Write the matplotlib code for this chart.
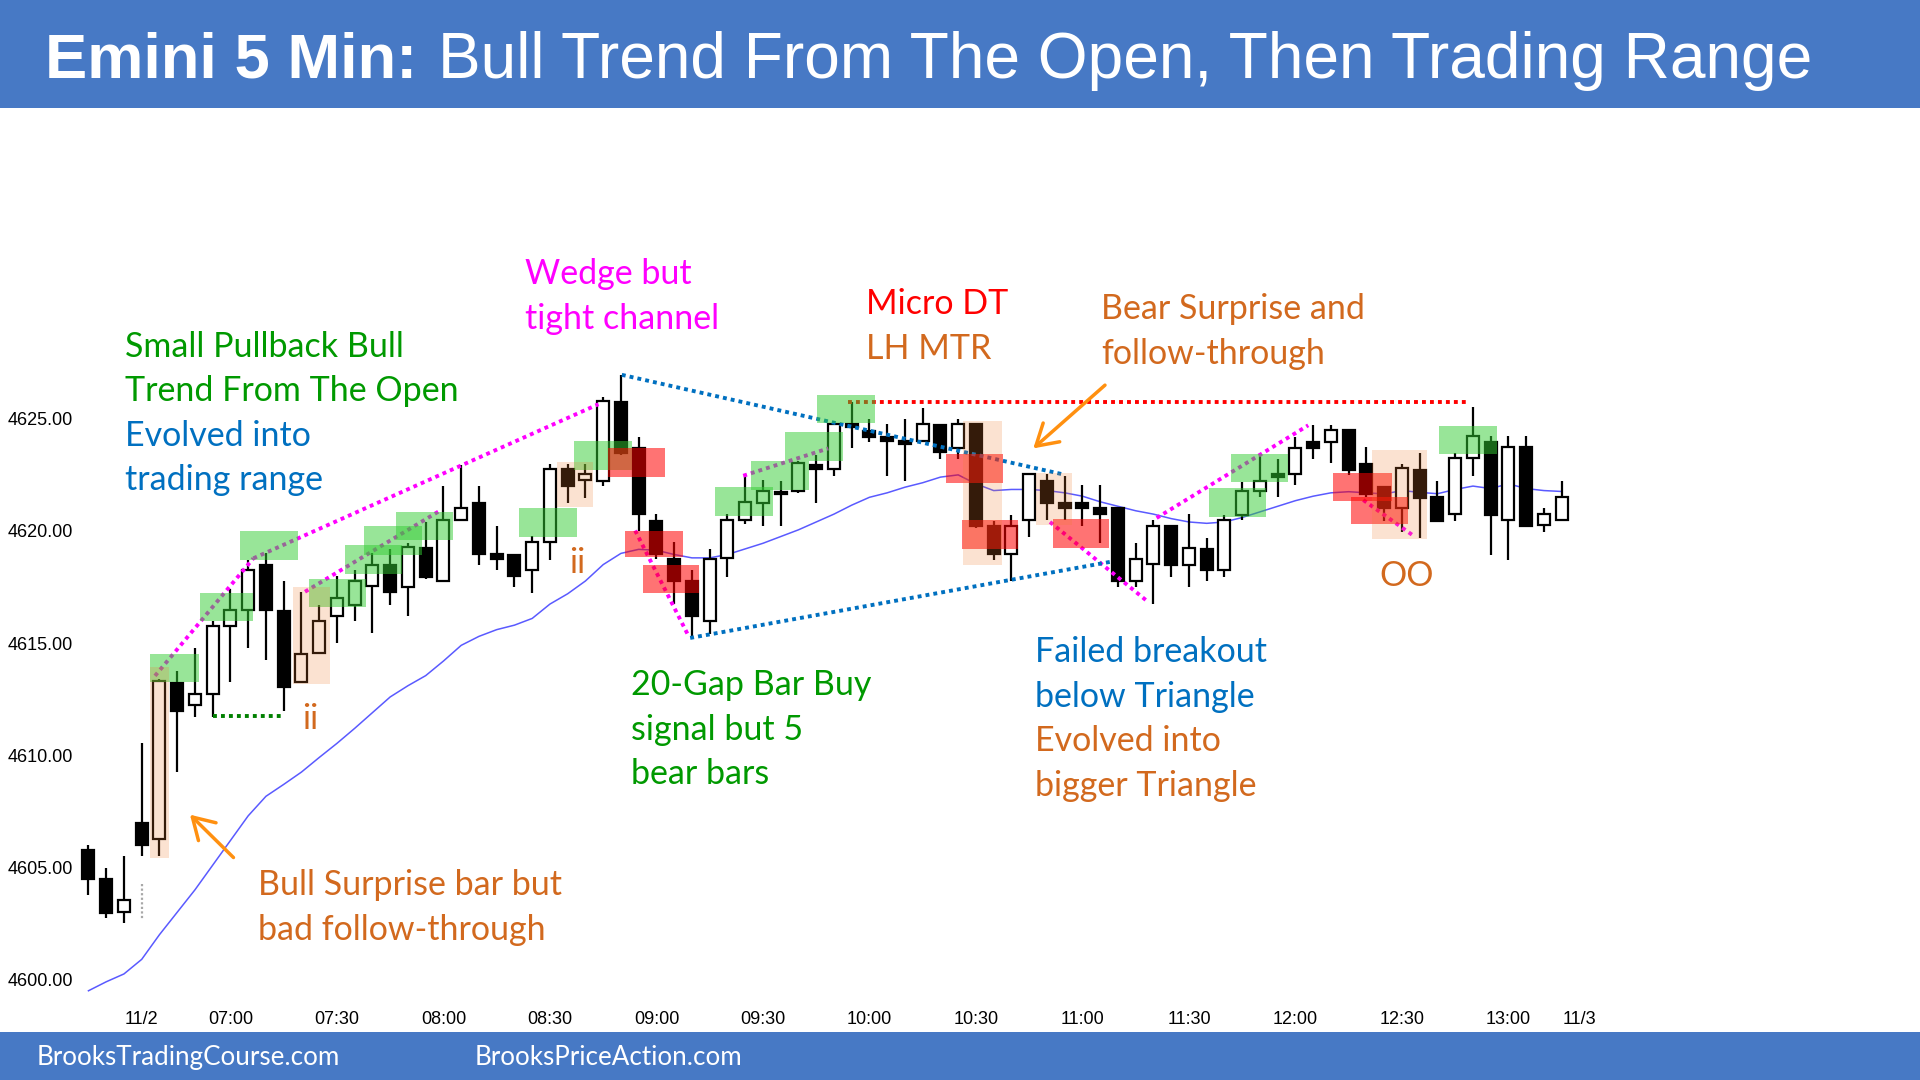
import matplotlib
matplotlib.use('Agg')
import matplotlib.pyplot as plt
from matplotlib.patches import Rectangle
import numpy as np

# ---------------- data ----------------
opens = [4605.77, 4604.49, 4603.02, 4606.98, 4606.26, 4613.23, 4612.23, 4612.72, 4615.76, 4616.48,
         4618.49, 4616.45, 4613.26, 4614.54, 4616.21, 4616.72, 4617.54, 4618.49, 4617.49, 4619.23,
         4617.77, 4620.49, 4621.24, 4618.99, 4618.95, 4618.27, 4619.51, 4622.74, 4622.27, 4622.23,
         4625.74, 4623.72, 4620.45, 4618.74, 4617.77, 4615.99, 4618.80, 4620.49, 4621.24, 4621.75,
         4621.77, 4622.93, 4622.74, 4624.75, 4624.47, 4624.19, 4624.00, 4624.00, 4624.71, 4623.72,
         4624.77, 4620.21, 4618.99, 4620.49, 4622.22, 4621.24, 4621.24, 4621.02, 4621.02, 4617.77,
         4618.52, 4620.21, 4618.48, 4619.21, 4618.27, 4620.73, 4621.77, 4622.52, 4622.52, 4623.96,
         4623.96, 4624.52, 4622.98, 4621.98, 4621.01, 4622.73, 4621.51, 4620.76, 4623.26, 4623.95,
         4620.48, 4623.73, 4620.26, 4620.48]
highs = [4606.02, 4604.98, 4605.53, 4610.53, 4613.40, 4613.77, 4614.76, 4615.99, 4617.39, 4618.72,
         4619.00, 4617.76, 4617.27, 4616.72, 4617.99, 4618.27, 4619.00, 4619.18, 4619.46, 4620.40,
         4621.99, 4622.93, 4621.99, 4620.21, 4618.95, 4619.78, 4622.97, 4622.97, 4622.97, 4625.97,
         4626.96, 4624.19, 4620.77, 4619.49, 4618.27, 4619.21, 4620.77, 4622.46, 4622.27, 4622.22,
         4623.10, 4623.40, 4624.80, 4625.74, 4624.99, 4624.77, 4624.99, 4625.50, 4624.75, 4624.99,
         4624.80, 4620.43, 4620.73, 4622.55, 4622.52, 4622.46, 4622.03, 4622.03, 4621.05, 4619.46,
         4620.49, 4620.21, 4620.77, 4619.70, 4620.73, 4622.18, 4623.45, 4623.21, 4624.19, 4624.71,
         4624.71, 4624.52, 4623.73, 4621.98, 4622.98, 4623.48, 4622.23, 4623.48, 4625.51, 4624.23,
         4624.23, 4624.23, 4621.01, 4622.23]
lows = [4603.76, 4602.74, 4602.53, 4605.53, 4605.53, 4609.26, 4611.72, 4611.72, 4613.26, 4614.76,
        4614.26, 4611.99, 4613.20, 4614.54, 4614.99, 4615.99, 4615.45, 4616.72, 4616.23, 4617.86,
        4617.77, 4620.49, 4618.48, 4618.24, 4617.49, 4617.24, 4618.71, 4621.24, 4621.47, 4621.99,
        4623.40, 4620.02, 4618.76, 4616.74, 4615.27, 4615.42, 4617.96, 4620.30, 4620.21, 4620.21,
        4621.70, 4621.24, 4622.46, 4623.68, 4623.96, 4622.46, 4622.22, 4623.98, 4623.21, 4623.21,
        4620.15, 4618.71, 4617.77, 4619.74, 4620.49, 4620.49, 4620.21, 4619.46, 4617.49, 4617.49,
        4616.74, 4617.96, 4617.49, 4617.77, 4617.96, 4620.49, 4621.52, 4621.52, 4622.03, 4623.21,
        4623.02, 4622.51, 4621.51, 4620.44, 4619.97, 4619.69, 4620.44, 4620.44, 4622.45, 4618.94,
        4618.70, 4620.20, 4619.97, 4620.48]
closes = [4604.49, 4602.98, 4603.53, 4606.02, 4613.30, 4611.99, 4612.75, 4615.76, 4616.48, 4618.27,
          4616.48, 4613.03, 4614.50, 4615.99, 4616.99, 4617.76, 4618.49, 4617.27, 4619.27, 4617.96,
          4620.49, 4621.01, 4618.99, 4618.76, 4617.99, 4619.51, 4622.74, 4621.99, 4622.52, 4625.78,
          4623.49, 4620.77, 4618.99, 4617.77, 4616.23, 4618.76, 4620.49, 4621.28, 4621.77, 4621.65,
          4623.02, 4622.78, 4624.77, 4624.62, 4624.20, 4624.02, 4623.87, 4624.77, 4623.53, 4624.77,
          4620.21, 4618.99, 4620.21, 4622.52, 4621.24, 4621.02, 4621.02, 4620.77, 4617.77, 4618.76,
          4620.21, 4618.48, 4619.23, 4618.24, 4620.49, 4621.77, 4622.22, 4622.40, 4623.72, 4623.72,
          4624.52, 4622.70, 4621.66, 4621.01, 4622.79, 4621.48, 4620.44, 4623.26, 4624.23, 4620.73,
          4623.73, 4620.20, 4620.76, 4621.51]
ema20 = [4599.5, 4599.9, 4600.25, 4600.9, 4602.0, 4603.0, 4604.0, 4605.1, 4606.2, 4607.3,
         4608.17, 4608.7, 4609.25, 4609.9, 4610.53, 4611.2, 4611.9, 4612.6, 4613.1, 4613.55,
         4614.2, 4614.9, 4615.3, 4615.6, 4615.8, 4616.1, 4616.74, 4617.2, 4617.77, 4618.5,
         4619.0, 4619.18, 4619.14, 4618.95, 4618.8, 4618.8, 4618.95, 4619.2, 4619.45, 4619.75,
         4620.05, 4620.4, 4620.75, 4621.15, 4621.5, 4621.7, 4621.95, 4622.15, 4622.4, 4622.5,
         4622.1, 4621.8, 4621.85, 4621.85, 4621.8, 4621.7, 4621.55, 4621.3, 4621.1, 4620.9,
         4620.75, 4620.55, 4620.4, 4620.34, 4620.4, 4620.6, 4620.85, 4621.1, 4621.35, 4621.55,
         4621.7, 4621.75, 4621.7, 4621.65, 4621.8, 4621.72, 4621.66, 4621.85, 4622.0, 4621.89,
         4622.1, 4621.89, 4621.8, 4621.76]

tick_bars = [3, 8, 14, 20, 26, 32, 38, 44, 50, 56, 62, 68, 74, 80, 84]
tick_labels = ['11/2', '07:00', '07:30', '08:00', '08:30', '09:00', '09:30', '10:00',
               '10:30', '11:00', '11:30', '12:00', '12:30', '13:00', '11/3']
price_ticks = [4600, 4605, 4610, 4615, 4620, 4625]

# highlight boxes: (x_start, x_end, low, high) in bar / price units
green_boxes = [(3.45, 6.25, 4613.26, 4614.5), (6.28, 9.27, 4615.98, 4617.23),
               (8.54, 11.79, 4618.7, 4620.0), (12.44, 15.62, 4616.62, 4617.86),
               (14.45, 17.65, 4618.08, 4619.37), (15.52, 18.77, 4618.93, 4620.21),
               (17.33, 20.52, 4619.6, 4620.86), (24.26, 27.51, 4619.74, 4621.04),
               (27.36, 30.61, 4622.72, 4624.0), (35.3, 38.54, 4620.68, 4621.95),
               (37.3, 40.59, 4621.84, 4623.12), (39.24, 42.49, 4623.12, 4624.39),
               (41.02, 44.31, 4624.81, 4626.06), (63.14, 66.34, 4620.64, 4621.9),
               (64.36, 67.56, 4622.18, 4623.45), (76.11, 79.34, 4623.45, 4624.7)]
red_boxes = [(29.29, 32.49, 4622.42, 4623.68), (30.23, 33.48, 4618.84, 4620.02),
             (31.27, 34.42, 4617.24, 4618.46), (48.31, 51.5, 4622.14, 4623.44),
             (49.19, 52.38, 4619.21, 4620.49), (54.32, 57.51, 4619.23, 4620.53),
             (70.13, 73.42, 4621.34, 4622.6), (71.13, 74.32, 4620.29, 4621.53)]
tan_boxes = [(3.47, 4.56, 4605.4, 4613.94), (11.55, 13.6, 4613.17, 4617.49),
             (26.38, 28.41, 4621.08, 4623.07), (49.29, 51.45, 4618.48, 4624.9),
             (53.38, 55.39, 4620.25, 4622.59), (72.33, 75.39, 4619.64, 4623.6)]

magenta_lines = [((3.75, 4613.54), (9.29, 4618.78)), ((9.29, 4618.78), (28.73, 4625.65)),
                 ((12.2, 4617.29), (19.71, 4620.86)), ((30.8, 4620.02), (33.8, 4615.33)),
                 ((36.89, 4622.46), (41.68, 4623.68)), ((54.17, 4620.4), (59.71, 4616.83)),
                 ((60.18, 4620.58), (68.72, 4624.71)), ((71.82, 4621.38), (74.64, 4619.79))]
blue_lines = [((30.05, 4626.96), (54.92, 4622.52)), ((33.9, 4615.23), (57.55, 4618.62))]
red_lines = [((42.81, 4625.75), (77.74, 4625.75))]
green_lines = [((7.0, 4611.77), (10.9, 4611.77))]
grey_lines = [((3.0, 4604.25), (3.0, 4602.71))]
arrows = [((8.17, 4605.44), (5.72, 4607.35)), ((57.27, 4626.5), (53.23, 4623.68))]

# ---------------- colours / fonts ----------------
BANNER = '#4779C5'
GREEN_T = '#009900'
BLUE_T = '#0070C0'
ORANGE_T = '#D2691E'
RED_T = '#FF0000'
MAGENTA = '#FF00FF'
ANN_FONT = 'Lato'
TICK_FONT = 'Liberation Sans'

W, H = 1920, 1080
fig = plt.figure(figsize=(W / 100, H / 100), dpi=100)
renderer = fig.canvas.get_renderer()


def fit_size(s, target_px, family, weight='normal', base=20.0):
    t = fig.text(0, 0, s, fontsize=base, family=family, weight=weight)
    w = t.get_window_extent(renderer).width
    t.remove()
    return base * target_px / w


def fx(px):
    return px / W


def fy(py):
    return 1 - py / H


# banners
fig.add_artist(Rectangle((0, fy(108)), 1, 108 / H, transform=fig.transFigure,
                         facecolor=BANNER, edgecolor='none', zorder=0))
fig.add_artist(Rectangle((0, 0), 1, (H - 1032) / H, transform=fig.transFigure,
                         facecolor=BANNER, edgecolor='none', zorder=0))

# title
title_bold = 'Emini 5 Min:'
title_rest = 'Bull Trend From The Open, Then Trading Range'
tsize_b = fit_size(title_bold, 372, TICK_FONT, 'bold')
tsize_r = fit_size(title_rest, 1372, TICK_FONT)
fig.text(fx(45), fy(78), title_bold, fontsize=tsize_b, family=TICK_FONT,
         weight='bold', color='white', va='baseline', ha='left')
fig.text(fx(438), fy(78), title_rest, fontsize=tsize_r, family=TICK_FONT,
         color='white', va='baseline', ha='left')

# footer
fsize = fit_size('BrooksTradingCourse.com', 303, ANN_FONT)
fig.text(fx(37), fy(1065), 'BrooksTradingCourse.com', fontsize=fsize, family=ANN_FONT,
         color='white', va='baseline', ha='left')
fig.text(fx(475), fy(1065), 'BrooksPriceAction.com', fontsize=fsize, family=ANN_FONT,
         color='white', va='baseline', ha='left')

# ---------------- axes ----------------
AX_L, AX_R, AX_T, AX_B = 80, 1600, 140, 1000
X0PX, DXPX = 141.7, 17.75       # pixel of bar 3, pixels per bar
Y0PX, DYPX = 418.8, 22.43       # pixel of 4625, pixels per point
ax = fig.add_axes([fx(AX_L), fy(AX_B), (AX_R - AX_L) / W, (AX_B - AX_T) / H])
ax.set_xlim(3 + (AX_L - X0PX) / DXPX, 3 + (AX_R - X0PX) / DXPX)
ax.set_ylim(4625 - (AX_B - Y0PX) / DYPX, 4625 + (Y0PX - AX_T) / DYPX)
for s in ax.spines.values():
    s.set_visible(False)
ax.set_facecolor('none')
ax.set_yticks(price_ticks)
ax.set_yticklabels(['%.2f' % p for p in price_ticks])
ax.set_xticks(tick_bars)
ax.set_xticklabels(tick_labels)
ax.tick_params(axis='both', length=0, labelsize=13, labelcolor='black')
ax.tick_params(axis='y', pad=5)
ax.tick_params(axis='x', pad=8)
for lab in ax.get_xticklabels() + ax.get_yticklabels():
    lab.set_family(TICK_FONT)

o = np.array(opens); h = np.array(highs); l = np.array(lows); c = np.array(closes)
x = np.arange(len(o))
ax.plot(x, ema20, color='#5A5AFF', lw=1.1, zorder=1.5)
ax.vlines(x, l, h, color='black', lw=1.6, zorder=2)
bull = c >= o
bottom = np.minimum(o, c)
height = np.maximum(np.abs(c - o), 0.05)
ax.bar(x[bull], height[bull], bottom=bottom[bull], width=0.68, facecolor='white',
       edgecolor='black', linewidth=1.6, zorder=3)
ax.bar(x[~bull], height[~bull], bottom=bottom[~bull], width=0.68, facecolor='black',
       edgecolor='black', linewidth=1.6, zorder=3)


def dotted(segs, color, lw=2.8):
    for (xa, ya), (xb, yb) in segs:
        ax.plot([xa, xb], [ya, yb], color=color, lw=lw, linestyle=(0, (1, 1.05)),
                zorder=3.5, solid_capstyle='butt')


dotted(magenta_lines, MAGENTA)
dotted(blue_lines, '#0070C0')
dotted(red_lines, '#FF0000')
dotted(green_lines, '#008000')
dotted(grey_lines, '#A8A8A8', lw=1.6)

for (xa, xb, ya, yb) in green_boxes:
    ax.add_patch(Rectangle((xa, ya), xb - xa, yb - ya, facecolor='#33CC33', alpha=0.5,
                           edgecolor='none', zorder=4))
for (xa, xb, ya, yb) in red_boxes:
    ax.add_patch(Rectangle((xa, ya), xb - xa, yb - ya, facecolor='#FF0000', alpha=0.55,
                           edgecolor='none', zorder=4))
for (xa, xb, ya, yb) in tan_boxes:
    ax.add_patch(Rectangle((xa, ya), xb - xa, yb - ya, facecolor='#ED7D31', alpha=0.22,
                           edgecolor='none', zorder=4))

for (xt, yt), (xh, yh) in arrows:
    ax.annotate('', xy=(xh, yh), xytext=(xt, yt),
                arrowprops=dict(arrowstyle='->,head_length=0.5,head_width=0.3',
                                color='#FF9010', lw=2.5, mutation_scale=30,
                                shrinkA=0, shrinkB=0), zorder=6)

# ---------------- annotations ----------------
asize = fit_size('Small Pullback Bull', 279, ANN_FONT)
LINE = 44.6
notes = [
    (125, 356.7, [('Small Pullback Bull', GREEN_T), ('Trend From The Open', GREEN_T),
                  ('Evolved into', BLUE_T), ('trading range', BLUE_T)]),
    (525, 284, [('Wedge but', MAGENTA), ('tight channel', MAGENTA)]),
    (866, 314, [('Micro DT', RED_T), ('LH MTR', ORANGE_T)]),
    (1101, 319.3, [('Bear Surprise and', ORANGE_T), ('follow-through', ORANGE_T)]),
    (631, 695, [('20-Gap Bar Buy', GREEN_T), ('signal but 5', GREEN_T), ('bear bars', GREEN_T)]),
    (1035, 662, [('Failed breakout', BLUE_T), ('below Triangle', BLUE_T),
                 ('Evolved into', ORANGE_T), ('bigger Triangle', ORANGE_T)]),
    (258, 895, [('Bull Surprise bar but', ORANGE_T), ('bad follow-through', ORANGE_T)]),
    (302, 729, [('ii', ORANGE_T)]),
    (569, 573, [('ii', ORANGE_T)]),
    (1379, 586, [('OO', ORANGE_T)]),
]
for xpx, ypx, lines in notes:
    for k, (txt, col) in enumerate(lines):
        fig.text(fx(xpx), fy(ypx + k * LINE), txt, fontsize=asize, family=ANN_FONT,
                 color=col, va='baseline', ha='left', zorder=10)

fig.savefig('out.png', dpi=100)
